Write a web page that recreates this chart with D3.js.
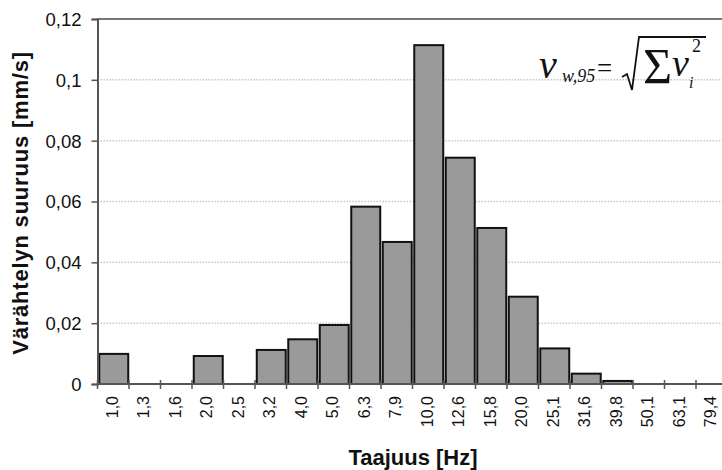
<!DOCTYPE html>
<html>
<head>
<meta charset="utf-8">
<script src="https://cdn.jsdelivr.net/npm/d3@7.9.0/dist/d3.min.js"></script>
<style>
  body { margin: 0; background: #fff; }
  svg { display: block; }
  text { font-family: "Liberation Sans", Arial, sans-serif; fill: #111; }
</style>
</head>
<body>
<svg width="722" height="470"></svg>
<script>
// === Data ===
const categories = ['1,0', '1,3', '1,6', '2,0', '2,5', '3,2', '4,0', '5,0', '6,3', '7,9',
  '10,0', '12,6', '15,8', '20,0', '25,1', '31,6', '39,8', '50,1', '63,1', '79,4'];
const values = [0.0099, 0, 0, 0.0092, 0, 0.0112, 0.0147, 0.0194, 0.0583, 0.0467,
  0.1114, 0.0744, 0.0513, 0.0287, 0.0117, 0.0034, 0.001, 0, 0, 0];
const yTicks = [0, 0.02, 0.04, 0.06, 0.08, 0.1, 0.12];

const svg = d3.select('svg');
const plotLeft = 97.5, plotTop = 19, plotBottom = 384;

const x = d3.scaleBand().domain(categories).range([plotLeft, plotLeft + 31.5 * categories.length]).paddingInner(0.08).paddingOuter(0.04);
const y = d3.scaleLinear().domain([0, 0.12]).range([plotBottom, plotTop]);
const step = x.step();

// gridlines (dotted)
svg.append('g')
  .selectAll('line')
  .data(yTicks.filter(d => d > 0 && d < 0.12))
  .join('line')
  .attr('x1', plotLeft).attr('x2', 722)
  .attr('y1', d => y(d)).attr('y2', d => y(d))
  .attr('stroke', '#c8c8c8')
  .attr('stroke-width', 1.5)
  .attr('stroke-dasharray', '1.5,1.5');

// top border
svg.append('line')
  .attr('x1', plotLeft).attr('x2', 722)
  .attr('y1', y(0.12)).attr('y2', y(0.12))
  .attr('stroke', '#777').attr('stroke-width', 2);

// bars
svg.append('g')
  .selectAll('rect')
  .data(values)
  .join('rect')
  .attr('x', (d, i) => x(categories[i]) + 0.5)
  .attr('y', d => y(d))
  .attr('width', x.bandwidth())
  .attr('height', d => plotBottom - y(d))
  .attr('fill', d => d > 0 ? '#9a9a9a' : 'none')
  .attr('stroke', d => d > 0 ? '#111' : 'none')
  .attr('stroke-width', 2);

// y axis
const yAxis = svg.append('g')
  .attr('transform', `translate(${plotLeft},0)`)
  .call(d3.axisLeft(y).tickValues(yTicks).tickSize(6).tickPadding(10)
    .tickFormat(d => d === 0 ? '0' : d3.format('.2~f')(d).replace('.', ',')));
yAxis.select('.domain').attr('stroke', '#555').attr('stroke-width', 2);
yAxis.selectAll('.tick line').attr('stroke', '#555').attr('stroke-width', 1.5);
yAxis.selectAll('.tick text').attr('font-size', 18.5).attr('fill', '#111').attr('dy', '0.35em')
  .style('font-family', '"Liberation Sans", Arial, sans-serif');

// x axis line with boundary ticks
svg.append('line')
  .attr('x1', plotLeft).attr('x2', 722)
  .attr('y1', plotBottom).attr('y2', plotBottom)
  .attr('stroke', '#555').attr('stroke-width', 2);

svg.append('g')
  .selectAll('line')
  .data(d3.range(categories.length + 1))
  .join('line')
  .attr('x1', i => plotLeft + i * step).attr('x2', i => plotLeft + i * step)
  .attr('y1', plotBottom - 4).attr('y2', plotBottom + 5)
  .attr('stroke', '#555').attr('stroke-width', 1.5);

// x labels rotated
svg.append('g')
  .selectAll('text')
  .data(categories)
  .join('text')
  .attr('transform', d => `translate(${x(d) + x.bandwidth() / 2 - 1},${plotBottom + 12}) rotate(-90)`)
  .attr('text-anchor', 'end')
  .attr('dy', '0.35em')
  .attr('font-size', 16)
  .text(d => d);

// axis titles
svg.append('text')
  .attr('transform', `translate(28,203) rotate(-90)`)
  .attr('text-anchor', 'middle')
  .attr('font-size', 22)
  .attr('font-weight', 'bold')
  .attr('letter-spacing', 0.8)
  .text('Värähtelyn suuruus [mm/s]');

svg.append('text')
  .attr('x', 413).attr('y', 465)
  .attr('text-anchor', 'middle')
  .attr('font-size', 22)
  .attr('font-weight', 'bold')
  .text('Taajuus [Hz]');

// formula  v_w,95 = sqrt(sum v_i^2)
const f = svg.append('g');
const serif = '"Liberation Serif", "DejaVu Serif", serif';
function ftext(str, px, py, size, italic) {
  f.append('text').attr('x', px).attr('y', py).attr('font-size', size)
    .attr('font-style', italic ? 'italic' : 'normal')
    .style('font-family', serif).text(str);
}
ftext('v', 539, 78, 40, true);
ftext('w,95', 562, 82, 18, true);
ftext('=', 597, 77, 27, false);
f.append('path')
  .attr('d', 'M622,77 L627,74 L632,90 L639,37 L706,37')
  .attr('fill', 'none').attr('stroke', '#111').attr('stroke-width', 1.8);
ftext('Σ', 643, 83, 50, false);
ftext('v', 672, 76, 38, true);
ftext('i', 689, 88, 16, true);
ftext('2', 692, 52, 18, false);
</script>
</body>
</html>
